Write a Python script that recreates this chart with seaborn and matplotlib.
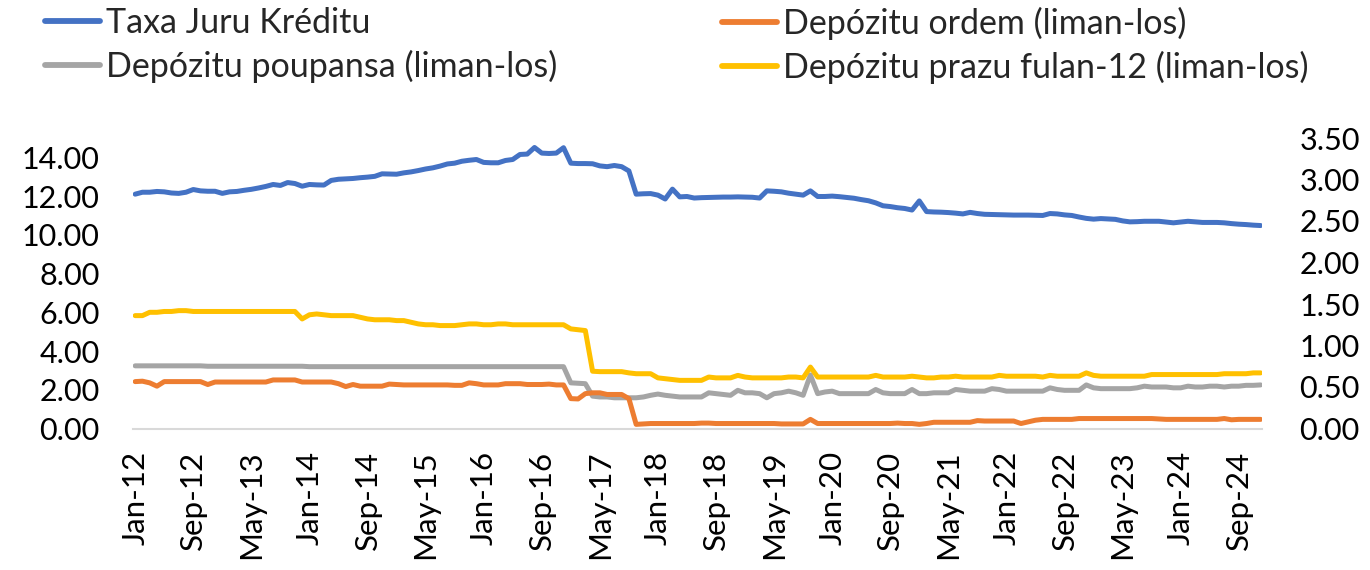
import numpy as np
import pandas as pd
import matplotlib
matplotlib.use("Agg")
import matplotlib.pyplot as plt
import seaborn as sns

# monthly, Jan-12 .. Dec-24
months = pd.date_range("2012-01-01", periods=156, freq="MS")
month_labels = [d.strftime("%b-%y") for d in months]

# left axis
credit_rate = [
    12.10, 12.20, 12.20, 12.24, 12.22, 12.16, 12.14, 12.20, 12.34, 12.27, 12.25, 12.25,
    12.14, 12.22, 12.24, 12.30, 12.35, 12.42, 12.50, 12.60, 12.55, 12.70, 12.65, 12.51,
    12.60, 12.58, 12.57, 12.81, 12.87, 12.89, 12.91, 12.95, 12.98, 13.02, 13.15, 13.14,
    13.13, 13.20, 13.25, 13.32, 13.40, 13.46, 13.55, 13.66, 13.70, 13.80, 13.85, 13.89,
    13.74, 13.72, 13.72, 13.84, 13.89, 14.15, 14.17, 14.51, 14.22, 14.20, 14.22, 14.50,
    13.70, 13.68, 13.68, 13.67, 13.56, 13.52, 13.58, 13.52, 13.30, 12.10, 12.12, 12.13,
    12.05, 11.85, 12.36, 11.96, 11.98, 11.90, 11.92, 11.93, 11.94, 11.95, 11.95, 11.96,
    11.95, 11.94, 11.90, 12.27, 12.25, 12.22, 12.15, 12.10, 12.05, 12.27, 11.98, 11.98,
    12.00, 11.97, 11.93, 11.89, 11.82, 11.76, 11.65, 11.50, 11.46, 11.40, 11.36, 11.28,
    11.75, 11.20, 11.18, 11.17, 11.15, 11.12, 11.08, 11.16, 11.10, 11.06, 11.05, 11.04,
    11.03, 11.02, 11.02, 11.02, 11.01, 11.00, 11.10, 11.08, 11.03, 11.00, 10.92, 10.85,
    10.81, 10.84, 10.82, 10.80, 10.72, 10.67, 10.68, 10.70, 10.70, 10.70, 10.66, 10.62,
    10.66, 10.70, 10.67, 10.64, 10.64, 10.64, 10.62, 10.58, 10.55, 10.53, 10.50, 10.48,
]

# right axis
demand_dep = [
    0.565, 0.57, 0.55, 0.51, 0.565, 0.565, 0.565, 0.565, 0.565, 0.565, 0.53, 0.56,
    0.56, 0.56, 0.56, 0.56, 0.56, 0.56, 0.56, 0.585, 0.585, 0.585, 0.585, 0.56,
    0.56, 0.56, 0.56, 0.56, 0.54, 0.505, 0.53, 0.51, 0.51, 0.51, 0.51, 0.535,
    0.53, 0.525, 0.525, 0.525, 0.525, 0.525, 0.525, 0.525, 0.52, 0.52, 0.55, 0.54,
    0.525, 0.525, 0.525, 0.54, 0.54, 0.54, 0.53, 0.53, 0.53, 0.535, 0.525, 0.525,
    0.36, 0.356, 0.42, 0.43, 0.43, 0.41, 0.41, 0.41, 0.36, 0.05, 0.055, 0.06,
    0.06, 0.06, 0.06, 0.06, 0.06, 0.06, 0.065, 0.065, 0.06, 0.06, 0.06, 0.06,
    0.06, 0.06, 0.06, 0.06, 0.06, 0.055, 0.055, 0.055, 0.055, 0.11, 0.06, 0.06,
    0.06, 0.06, 0.06, 0.06, 0.06, 0.06, 0.06, 0.06, 0.06, 0.065, 0.06, 0.06,
    0.05, 0.06, 0.075, 0.075, 0.075, 0.075, 0.075, 0.075, 0.095, 0.09, 0.09, 0.09,
    0.09, 0.09, 0.06, 0.08, 0.10, 0.11, 0.11, 0.11, 0.11, 0.11, 0.12, 0.12,
    0.12, 0.12, 0.12, 0.12, 0.12, 0.12, 0.12, 0.12, 0.12, 0.115, 0.11, 0.11,
    0.11, 0.11, 0.11, 0.11, 0.11, 0.11, 0.12, 0.105, 0.11, 0.11, 0.11, 0.11,
]

savings_dep = [
    0.755, 0.755, 0.755, 0.755, 0.755, 0.755, 0.755, 0.755, 0.755, 0.755, 0.75, 0.75,
    0.75, 0.75, 0.75, 0.75, 0.75, 0.75, 0.75, 0.75, 0.75, 0.75, 0.75, 0.75,
    0.745, 0.745, 0.745, 0.745, 0.745, 0.745, 0.745, 0.745, 0.745, 0.745, 0.745, 0.745,
    0.745, 0.745, 0.745, 0.745, 0.745, 0.745, 0.745, 0.745, 0.745, 0.745, 0.745, 0.745,
    0.745, 0.745, 0.745, 0.745, 0.745, 0.745, 0.745, 0.745, 0.745, 0.745, 0.745, 0.745,
    0.55, 0.545, 0.54, 0.39, 0.38, 0.38, 0.37, 0.37, 0.37, 0.37, 0.38, 0.40,
    0.415, 0.40, 0.39, 0.38, 0.38, 0.38, 0.38, 0.43, 0.42, 0.41, 0.40, 0.46,
    0.43, 0.43, 0.42, 0.37, 0.42, 0.43, 0.45, 0.43, 0.40, 0.645, 0.42, 0.44,
    0.45, 0.42, 0.42, 0.42, 0.42, 0.42, 0.47, 0.43, 0.42, 0.42, 0.42, 0.47,
    0.42, 0.42, 0.43, 0.43, 0.43, 0.47, 0.46, 0.45, 0.45, 0.45, 0.48, 0.47,
    0.45, 0.45, 0.45, 0.45, 0.45, 0.45, 0.49, 0.47, 0.46, 0.46, 0.46, 0.525,
    0.49, 0.48, 0.48, 0.48, 0.48, 0.48, 0.49, 0.51, 0.50, 0.50, 0.50, 0.49,
    0.49, 0.51, 0.50, 0.50, 0.51, 0.51, 0.50, 0.51, 0.51, 0.52, 0.52, 0.525,
]

time_dep_12m = [
    1.36, 1.36, 1.40, 1.40, 1.41, 1.41, 1.42, 1.42, 1.41, 1.41, 1.41, 1.41,
    1.41, 1.41, 1.41, 1.41, 1.41, 1.41, 1.41, 1.41, 1.41, 1.41, 1.41, 1.32,
    1.37, 1.38, 1.37, 1.36, 1.36, 1.36, 1.36, 1.34, 1.32, 1.31, 1.31, 1.31,
    1.30, 1.30, 1.28, 1.26, 1.25, 1.25, 1.24, 1.24, 1.24, 1.25, 1.26, 1.26,
    1.25, 1.25, 1.26, 1.26, 1.25, 1.25, 1.25, 1.25, 1.25, 1.25, 1.25, 1.25,
    1.20, 1.19, 1.18, 0.69, 0.685, 0.685, 0.685, 0.685, 0.67, 0.66, 0.66, 0.66,
    0.61, 0.60, 0.59, 0.58, 0.58, 0.58, 0.58, 0.62, 0.61, 0.61, 0.61, 0.64,
    0.62, 0.61, 0.61, 0.61, 0.61, 0.61, 0.62, 0.62, 0.61, 0.74, 0.62, 0.62,
    0.62, 0.62, 0.62, 0.62, 0.62, 0.62, 0.64, 0.62, 0.62, 0.62, 0.62, 0.63,
    0.62, 0.61, 0.61, 0.62, 0.62, 0.63, 0.62, 0.62, 0.62, 0.62, 0.62, 0.64,
    0.63, 0.63, 0.63, 0.63, 0.63, 0.62, 0.64, 0.63, 0.63, 0.63, 0.63, 0.67,
    0.64, 0.63, 0.63, 0.63, 0.63, 0.63, 0.63, 0.63, 0.65, 0.65, 0.65, 0.65,
    0.65, 0.65, 0.65, 0.65, 0.65, 0.65, 0.66, 0.66, 0.66, 0.66, 0.67, 0.67,
]

names = ["Taxa Juru Kréditu", "Depózitu ordem (liman-los)",
         "Depózitu poupansa (liman-los)", "Depózitu prazu fulan-12 (liman-los)"]
colors = ["#4472C4", "#ED7D31", "#A5A5A5", "#FFC000"]

df = pd.DataFrame({"m": np.arange(len(months)), "credit": credit_rate,
                   "demand": demand_dep, "savings": savings_dep, "time12": time_dep_12m})

sns.set_theme(style="white")
plt.rcParams["font.family"] = ["Lato", "DejaVu Sans"]

fig = plt.figure(figsize=(13.7, 5.7), dpi=100)
ax = fig.add_axes([133 / 1370, 1 - 428.5 / 570, 1129 / 1370, 290.5 / 570])
ax2 = ax.twinx()

lw = 3.6
kw = dict(legend=False, lw=lw, solid_joinstyle="round", solid_capstyle="round")
sns.lineplot(data=df, x="m", y="credit", ax=ax, color=colors[0], **kw)
sns.lineplot(data=df, x="m", y="savings", ax=ax2, color=colors[2], **kw)
sns.lineplot(data=df, x="m", y="time12", ax=ax2, color=colors[3], **kw)
sns.lineplot(data=df, x="m", y="demand", ax=ax2, color=colors[1], **kw)

ax.set_xlim(-0.3, 155.2)
ax.set_ylim(0, 15)
ax2.set_ylim(0, 3.5)
ax.set_yticks(np.arange(0, 15, 2))
ax.set_yticklabels([f"{v:.2f}" for v in np.arange(0, 15, 2)])
ax2.set_yticks(np.arange(0, 3.51, 0.5))
ax2.set_yticklabels([f"{v:.2f}" for v in np.arange(0, 3.51, 0.5)])
ticks = np.arange(0, len(months), 8)
ax.set_xticks(ticks)
ax.set_xticklabels([month_labels[i] for i in ticks], rotation=90)
ax.set_xlabel("")
ax.set_ylabel("")
ax2.set_ylabel("")

ax.tick_params(axis="y", length=0, labelsize=22, pad=24, colors="black")
ax2.tick_params(axis="y", length=0, labelsize=22, pad=27, colors="black")
ax.tick_params(axis="x", length=0, labelsize=22.5, pad=16, colors="black")

for a in (ax, ax2):
    for s in a.spines.values():
        s.set_visible(False)
ax.spines["bottom"].set_visible(True)
ax.spines["bottom"].set_color("#D9D9D9")
ax.spines["bottom"].set_linewidth(1.5)

handles = [plt.Line2D([], [], color=c, lw=4.2) for c in colors]
leg_kw = dict(loc="upper left", frameon=False, fontsize=24.5, handlelength=1.62,
              handletextpad=0.18, labelspacing=0.32, borderpad=0, borderaxespad=0)
fig.legend([handles[0], handles[2]], [names[0], names[2]],
           bbox_to_anchor=(45 / 1370, 1 - 7 / 570), **leg_kw)
fig.legend([handles[1], handles[3]], [names[1], names[3]],
           bbox_to_anchor=(722 / 1370, 1 - 7 / 570), **leg_kw)

fig.savefig("out.png", dpi=100)
